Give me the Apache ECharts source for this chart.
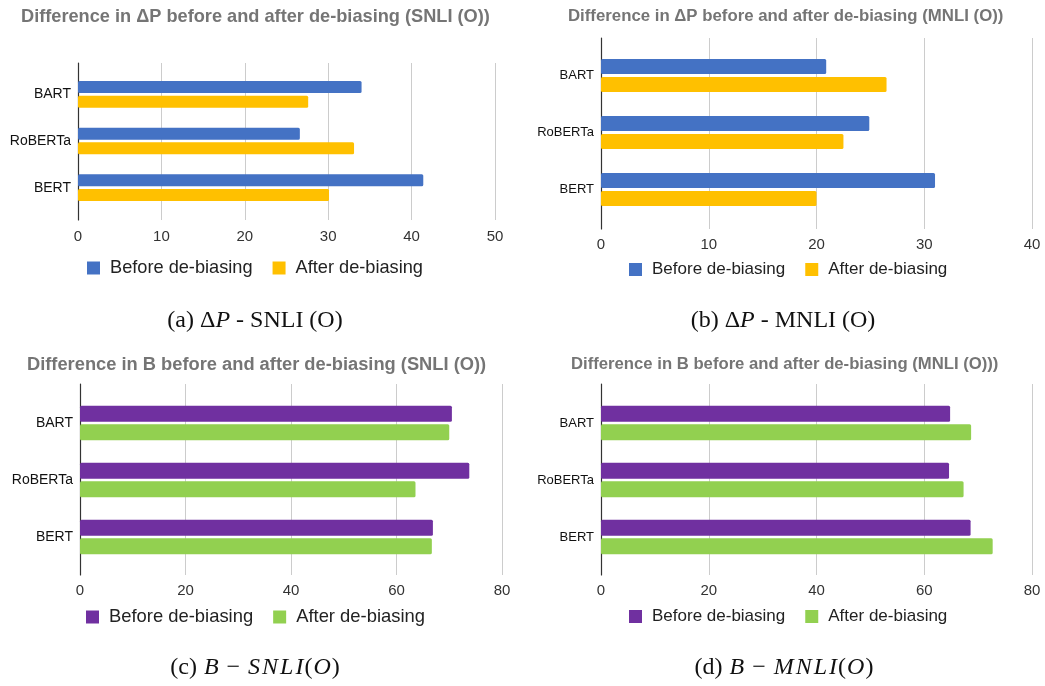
<!DOCTYPE html>
<html><head><meta charset="utf-8">
<script src="https://cdn.jsdelivr.net/npm/echarts@6/dist/echarts.min.js"></script>
<style>html,body{margin:0;padding:0;background:#fff}#c{width:1045px;height:686px}</style>
</head><body><div id="c"></div>
<script>
// ---- data ----
const categories = ['BART', 'RoBERTa', 'BERT'];
const seriesNames = ['Before de-biasing', 'After de-biasing'];
const dpSnliBefore = [34.0, 26.6, 41.4];
const dpSnliAfter  = [27.6, 33.1, 30.1];
const dpMnliBefore = [20.9, 24.9, 31.0];
const dpMnliAfter  = [26.5, 22.5, 20.0];
const bSnliBefore  = [70.5, 73.8, 66.9];
const bSnliAfter   = [70.0, 63.6, 66.7];
const bMnliBefore  = [64.8, 64.6, 68.6];
const bMnliAfter   = [68.7, 67.3, 72.7];
const axisMaxes = [50, 40, 80, 80];
const axisSteps = [10, 10, 20, 20];
const chartTitles = [
  'Difference in ΔP before and after de-biasing (SNLI (O))',
  'Difference in ΔP before and after de-biasing (MNLI (O))',
  'Difference in B before and after de-biasing (SNLI (O))',
  'Difference in B before and after de-biasing (MNLI (O)))'
];
const captions = [
  '{n|(a) }{n|Δ}{i|P}{n| - SNLI (O)}',
  '{n|(b) }{n|Δ}{i|P}{n| - MNLI (O)}',
  '{n|(c) }{m|B}{op|−}{m|S}{m|N}{m|L}{m|I}{n|(}{m|O}{n|)}',
  '{n|(d) }{m|B}{op|−}{m|M}{m|N}{m|L}{m|I}{n|(}{m|O}{n|)}'
];

// ---- styling / layout ----
const BLUE = '#4472C4', YELLOW = '#FFC000', PURPLE = '#7030A0', GREEN = '#92D050';
const SANS = 'Liberation Sans, Arial, sans-serif';
const SERIF = 'Liberation Serif, Times New Roman, serif';
const CAP = 24;
const panels = [
  {before: dpSnliBefore, after: dpSnliAfter, colors: [BLUE, YELLOW],
   x0: 78, x1: 495, dTop: 63, dBot: 220, top: 71, h: 140, barW: 12, barGap: '22%',
   tLeft: 21, tTop: 8, tSize: 18.2, catSize: 14, tickMargin: 9,
   lLeft: 87, lY: 269, lSize: 18.2, cX: 255, cY: 322},
  {before: dpMnliBefore, after: dpMnliAfter, colors: [BLUE, YELLOW],
   x0: 601, x1: 1032, dTop: 38, dBot: 229, top: 47, h: 171, barW: 15, barGap: '20%',
   tLeft: 568, tTop: 8, tSize: 16.8, catSize: 13, tickMargin: 8,
   lLeft: 629, lY: 271, lSize: 17, cX: 783, cY: 322},
  {before: bSnliBefore, after: bSnliAfter, colors: [PURPLE, GREEN],
   x0: 80, x1: 502, dTop: 384, dBot: 575, top: 394.5, h: 171, barW: 16, barGap: '15%',
   tLeft: 27, tTop: 356, tSize: 18.3, catSize: 14, tickMargin: 8.5,
   lLeft: 86, lY: 618, lSize: 18.4, cX: 255, cY: 669},
  {before: bMnliBefore, after: bMnliAfter, colors: [PURPLE, GREEN],
   x0: 601, x1: 1032, dTop: 384, dBot: 575, top: 394.5, h: 171, barW: 16, barGap: '15%',
   tLeft: 571, tTop: 356, tSize: 16.7, catSize: 13, tickMargin: 8.5,
   lLeft: 629, lY: 618, lSize: 17, cX: 784, cY: 669}
];

const W = 1045, H = 686;
const option = {
  animation: false, backgroundColor: '#fff',
  title: [], legend: [], grid: [], xAxis: [], yAxis: [], series: []
};

panels.forEach((p, i) => {
  const gd = 2 * i, gb = 2 * i + 1;
  option.grid.push({left: p.x0, width: p.x1 - p.x0, top: p.dTop, height: p.dBot - p.dTop, containLabel: false});
  option.grid.push({left: p.x0, width: p.x1 - p.x0, top: p.top, height: p.h, containLabel: false});
  option.xAxis.push({
    type: 'value', gridIndex: gd, min: 0, max: axisMaxes[i], interval: axisSteps[i],
    axisLine: {show: false}, axisTick: {show: false},
    splitLine: {show: true, lineStyle: {color: '#cccccc', width: 1}},
    axisLabel: {show: true, color: '#333', fontFamily: SANS, fontSize: 15, margin: p.tickMargin,
                showMinLabel: true, showMaxLabel: true}
  });
  option.xAxis.push({
    type: 'value', gridIndex: gb, min: 0, max: axisMaxes[i], interval: axisSteps[i], show: false
  });
  option.yAxis.push({
    type: 'value', gridIndex: gd, min: 0, max: 1, position: 'left',
    axisLine: {show: true, onZero: false, lineStyle: {color: '#333', width: 1.2}},
    axisTick: {show: false}, axisLabel: {show: false}, splitLine: {show: false}
  });
  option.yAxis.push({
    type: 'category', gridIndex: gb, data: categories, inverse: true,
    axisLine: {show: false}, axisTick: {show: false}, splitLine: {show: false},
    axisLabel: {color: '#111', fontFamily: SANS, fontSize: p.catSize, margin: 7}
  });
  [p.before, p.after].forEach((vals, k) => {
    option.series.push({
      type: 'bar', name: seriesNames[k], xAxisIndex: gb, yAxisIndex: gb,
      data: vals, barWidth: p.barW, barGap: p.barGap,
      itemStyle: {color: p.colors[k], borderRadius: 1.5}
    });
  });
  option.title.push({
    text: chartTitles[i], left: p.tLeft, top: p.tTop, padding: 0,
    textStyle: {fontFamily: SANS, fontSize: p.tSize, fontWeight: 'bold', color: '#757575'}
  });
  option.title.push({
    text: captions[i], left: p.cX, top: p.cY - 13, padding: 0, textAlign: 'center',
    textStyle: {fontFamily: SERIF, fontSize: CAP, fontWeight: 'normal', color: '#111',
      rich: {
        n: {fontFamily: SERIF, fontSize: CAP, color: '#111'},
        i: {fontFamily: SERIF, fontSize: CAP, fontStyle: 'italic', color: '#111'},
        m: {fontFamily: SERIF, fontSize: CAP, fontStyle: 'italic', color: '#111', padding: [0, 1, 0, 1]},
        op: {fontFamily: SERIF, fontSize: CAP, color: '#111', padding: [0, 7, 0, 7]}
      }}
  });
  option.legend.push({
    left: p.lLeft, top: p.lY - 10, padding: 0, orient: 'horizontal',
    itemWidth: 13, itemHeight: 13, itemGap: 20, selectedMode: false,
    icon: 'rect',
    data: seriesNames.map((n, k) => ({name: n, icon: 'rect', itemStyle: {color: p.colors[k]}})),
    textStyle: {fontFamily: SANS, fontSize: p.lSize, color: '#222', padding: [0, 0, 0, 5]}
  });
});

const chart = echarts.init(document.getElementById('c'), null, {renderer: 'canvas', width: W, height: H});
chart.setOption(option);
</script>
</body></html>
